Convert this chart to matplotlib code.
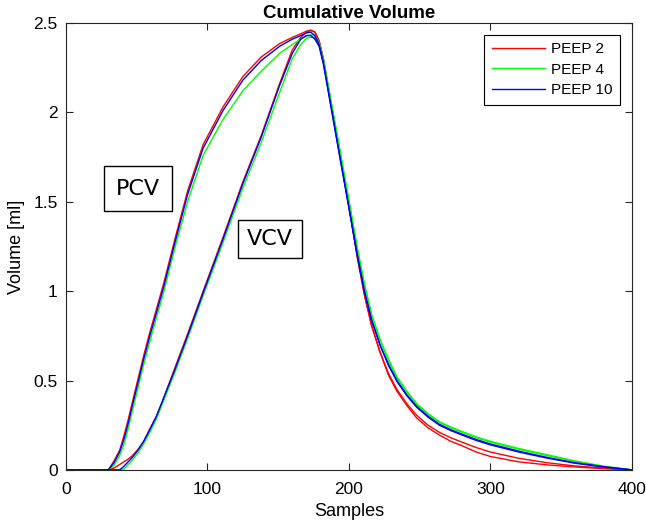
import numpy as np
import matplotlib.pyplot as plt

plt.rcParams['font.family'] = ['Liberation Sans', 'DejaVu Sans']

samples = [0, 30, 34, 38, 41, 44, 47, 51, 55, 59, 64, 69, 77, 86, 97, 111, 125, 138, 151, 160,
           166, 170, 173, 176, 179, 182, 187, 193, 200, 206, 211, 216, 222, 228, 234, 241, 248, 256, 264, 272,
           280, 290, 300, 320, 340, 360, 380, 400]

# PEEP 2
pcv_peep2 = [0, 0, 0.05, 0.11, 0.19, 0.28, 0.38, 0.51, 0.64, 0.76, 0.90, 1.04, 1.29, 1.56, 1.82, 2.03, 2.20, 2.31, 2.385, 2.42,
             2.44, 2.455, 2.46, 2.45, 2.40, 2.30, 2.07, 1.80, 1.48, 1.19, 0.98, 0.81, 0.66, 0.53, 0.44, 0.36, 0.29, 0.235, 0.195, 0.16,
             0.135, 0.10, 0.075, 0.045, 0.028, 0.016, 0.007, 0]
vcv_peep2 = [0, 0, 0.01, 0.03, 0.045, 0.06, 0.08, 0.115, 0.16, 0.225, 0.30, 0.40, 0.57, 0.76, 1.00, 1.30, 1.61, 1.87, 2.16, 2.35,
             2.42, 2.45, 2.46, 2.45, 2.40, 2.30, 2.07, 1.80, 1.48, 1.19, 0.98, 0.81, 0.66, 0.54, 0.45, 0.37, 0.305, 0.25, 0.21, 0.18,
             0.155, 0.125, 0.10, 0.065, 0.04, 0.022, 0.01, 0]
# PEEP 4
pcv_peep4 = [0, 0, 0.025, 0.08, 0.14, 0.23, 0.33, 0.46, 0.59, 0.71, 0.85, 0.99, 1.24, 1.50, 1.76, 1.96, 2.12, 2.23, 2.33, 2.38,
             2.41, 2.43, 2.435, 2.43, 2.39, 2.30, 2.08, 1.82, 1.51, 1.24, 1.04, 0.87, 0.73, 0.62, 0.52, 0.44, 0.37, 0.315, 0.27, 0.24,
             0.215, 0.185, 0.16, 0.12, 0.085, 0.05, 0.02, 0]
vcv_peep4 = [0, 0, 0, 0, 0.005, 0.03, 0.055, 0.095, 0.145, 0.205, 0.285, 0.385, 0.545, 0.735, 0.975, 1.27, 1.575, 1.83, 2.11, 2.30,
             2.38, 2.415, 2.42, 2.42, 2.38, 2.29, 2.08, 1.82, 1.51, 1.24, 1.04, 0.87, 0.73, 0.61, 0.515, 0.435, 0.365, 0.31, 0.265, 0.235,
             0.21, 0.18, 0.155, 0.115, 0.08, 0.048, 0.02, 0]
# PEEP 10
pcv_peep10 = [0, 0, 0.04, 0.10, 0.17, 0.26, 0.36, 0.49, 0.62, 0.74, 0.88, 1.02, 1.27, 1.54, 1.80, 2.01, 2.18, 2.29, 2.37, 2.41,
              2.43, 2.445, 2.45, 2.43, 2.38, 2.28, 2.05, 1.78, 1.47, 1.20, 1.00, 0.84, 0.70, 0.59, 0.50, 0.42, 0.355, 0.30, 0.255, 0.225,
              0.20, 0.17, 0.145, 0.105, 0.07, 0.04, 0.018, 0]
vcv_peep10 = [0, 0, 0, 0, 0.02, 0.045, 0.07, 0.11, 0.16, 0.22, 0.30, 0.40, 0.56, 0.75, 0.99, 1.29, 1.60, 1.86, 2.15, 2.33,
              2.41, 2.43, 2.43, 2.41, 2.37, 2.27, 2.05, 1.78, 1.47, 1.20, 1.00, 0.84, 0.70, 0.585, 0.495, 0.415, 0.35, 0.295, 0.25, 0.22,
              0.195, 0.165, 0.14, 0.10, 0.066, 0.037, 0.016, 0]

labels = ['PEEP 2', 'PEEP 4', 'PEEP 10']
colors = ['#ff0000', '#00ff00', '#0000ff']
pcv = [pcv_peep2, pcv_peep4, pcv_peep10]
vcv = [vcv_peep2, vcv_peep4, vcv_peep10]

fig = plt.figure(figsize=(6.46, 5.25), dpi=100)
ax = fig.add_axes([0.102, 0.105, 0.876, 0.851])

for i in range(3):
    ax.plot(samples, pcv[i], color=colors[i], lw=1.0, label=labels[i])
    ax.plot(samples, vcv[i], color=colors[i], lw=1.0)

ax.set_xlim(0, 400)
ax.set_ylim(0, 2.5)
ax.set_xticks([0, 100, 200, 300, 400])
ax.set_yticks([0, 0.5, 1, 1.5, 2, 2.5])
ax.set_yticklabels(['0', '0.5', '1', '1.5', '2', '2.5'])
ax.tick_params(direction='in', length=5, width=0.8, top=True, right=True,
               labelsize=12.5, colors='#262626', labelcolor='black')
ax.tick_params(axis='x', pad=9)
ax.tick_params(axis='y', pad=6)
for sp in ax.spines.values():
    sp.set_color('#262626')
    sp.set_linewidth(0.8)

ax.set_xlabel('Samples', fontsize=13, labelpad=4)
ax.set_ylabel('Volume [ml]', fontsize=13, labelpad=6)
ax.set_title('Cumulative Volume', fontsize=13.5, fontweight='bold', pad=4)

ax.text(50.9, 1.574, 'PCV', fontsize=16, family='DejaVu Sans', ha='center', va='center',
        bbox=dict(boxstyle='square,pad=0.55', fc='white', ec='black', lw=1.0))
ax.text(144, 1.29, 'VCV', fontsize=16, family='DejaVu Sans', ha='center', va='center',
        bbox=dict(boxstyle='square,pad=0.4', fc='white', ec='black', lw=1.0))

leg = ax.legend(loc='upper right', fontsize=11, fancybox=False, edgecolor='black',
                borderaxespad=0.75, handlelength=3.5, handletextpad=0.4,
                labelspacing=0.42, borderpad=0.5, framealpha=1)
leg.get_frame().set_linewidth(0.8)

plt.savefig('out.png', dpi=100)
